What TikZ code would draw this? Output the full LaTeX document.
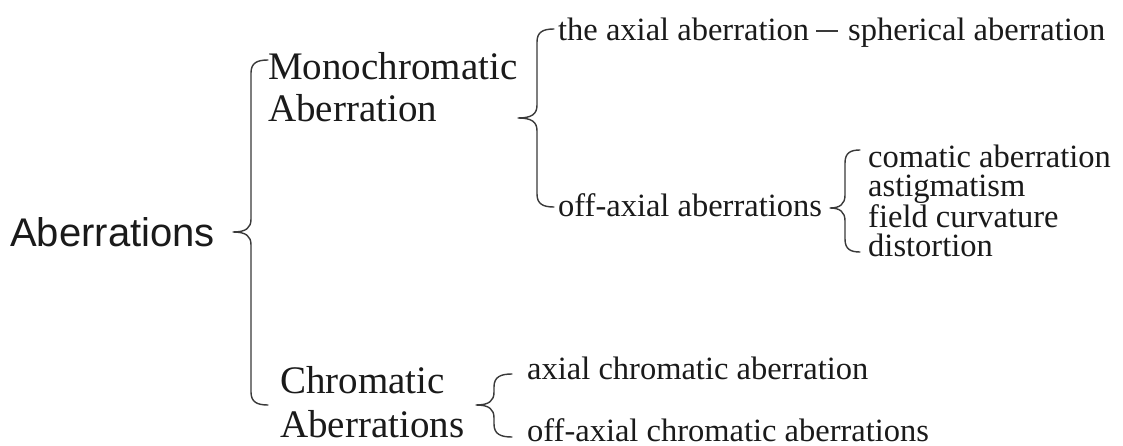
\documentclass[tikz,border=0pt]{standalone}
\usepackage{fontspec}
\setmainfont{Liberation Serif}
\newfontfamily\headsans{Liberation Sans}
\definecolor{txt}{HTML}{1A1A1A}
\definecolor{brc}{HTML}{3A3A3A}
\tikzset{
  big/.style={anchor=base west, inner sep=0pt, text=txt, font=\fontsize{39}{45}\selectfont},
  small/.style={anchor=base west, inner sep=0pt, text=txt, font=\fontsize{32.5}{38}\selectfont},
  rootlabel/.style={anchor=base west, inner sep=0pt, text=txt, font=\headsans\fontsize{40}{46}\selectfont},
  bracket/.style={draw=brc, line width=1.4pt, line cap=round, line join=round},
}
% #1 x of vertical, #2 y top, #3 y bottom, #4 x tip, #5 y tip, #6 x of curl ends
\newcommand\drawbrace[6]{%
  \draw[bracket] (#6,#2) .. controls ({#1+0.35*(#6-#1)},#2) and (#1,{#2+3}) .. (#1,{#2+13})
    -- (#1,{#5-13}) .. controls (#1,{#5-4}) and ({#1-5},#5) .. (#4,#5)
    .. controls ({#1-5},#5) and (#1,{#5+4}) .. (#1,{#5+13})
    -- (#1,{#3-13}) .. controls (#1,{#3-3}) and ({#1+0.35*(#6-#1)},#3) .. (#6,#3);}
\begin{document}
\begin{tikzpicture}[x=1pt,y=-1pt]
\useasboundingbox (0,0) rectangle (1123,446);
\fill[white] (0,0) rectangle (1123,446);

\node[rootlabel] (root) at (10,246) {Aberrations};

\node[big] (mono1) at (268,80) {Monochromatic};
\node[big] (mono2) at (268,122) {Aberration};
\node[big] (chro1) at (280,393) {Chromatic};
\node[big] (chro2) at (280,437) {Aberrations};

\node[small] (axial) at (558,41) {the axial aberration};
\node[small] (spher) at (848,41) {spherical aberration};
\node[small] (offax) at (558,217) {off-axial aberrations};

\node[small, anchor=north west, align=left, font=\fontsize{32.5}{29}\selectfont]
  (offlist) at (868,145) {comatic aberration\\astigmatism\\field curvature\\distortion};

\node[small] (axchr) at (527,379) {axial chromatic aberration};
\node[small] (offchr) at (527,441) {off-axial chromatic aberrations};

% axial -- spherical connector
\draw[bracket, line cap=butt] ([xshift=7pt,yshift=-1pt]axial.east) -- ([xshift=-10pt,yshift=-1pt]spher.west |- axial.east);

% braces
\drawbrace{251}{60}{405}{233}{232}{268}
\drawbrace{537}{29}{207}{518}{118}{554}
\drawbrace{845}{150}{252}{830}{208}{860}
\drawbrace{494}{374}{437}{476}{405}{512}
\end{tikzpicture}
\end{document}
